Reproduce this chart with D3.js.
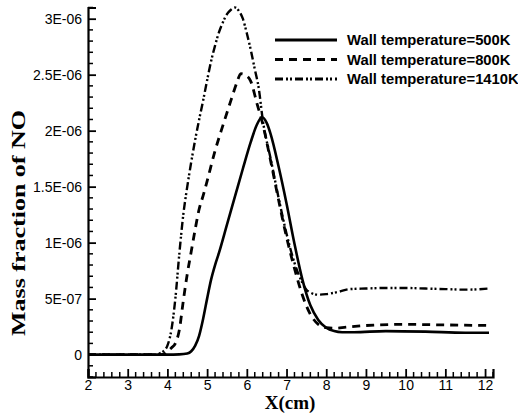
<!DOCTYPE html>
<html>
<head>
<meta charset="utf-8">
<script src="https://cdn.jsdelivr.net/npm/d3@7"></script>
<style>
  html, body { margin: 0; padding: 0; background: #fff; }
  svg { display: block; }
</style>
</head>
<body>
<svg id="chart" width="518" height="414"></svg>
<script>
// ---------- data (values in units of 1E-06 mass fraction) ----------
const seriesNames = ["Wall temperature=500K", "Wall temperature=800K", "Wall temperature=1410K"];

const x500 = [2, 3, 4, 4.3, 4.5, 4.6, 4.7, 4.8, 4.9, 5.0, 5.1, 5.2, 5.3, 5.5, 5.7, 5.9, 6.1, 6.25, 6.38, 6.5, 6.6, 6.8, 7.0, 7.2, 7.4, 7.6, 7.8, 8.0, 8.2, 8.4, 8.7, 9.5, 10.5, 11.5, 12.1];
const y500 = [0, 0, 0, 0.002, 0.01, 0.03, 0.08, 0.17, 0.32, 0.5, 0.67, 0.8, 0.91, 1.16, 1.41, 1.66, 1.9, 2.05, 2.12, 2.07, 1.97, 1.68, 1.35, 0.99, 0.67, 0.44, 0.31, 0.24, 0.21, 0.2, 0.2, 0.21, 0.205, 0.195, 0.195];

const x800 = [2, 3, 3.8, 3.9, 4.0, 4.1, 4.2, 4.3, 4.4, 4.5, 4.6, 4.7, 4.8, 4.9, 5.0, 5.2, 5.4, 5.6, 5.75, 5.85, 5.95, 6.1, 6.25, 6.4, 6.6, 6.8, 7.0, 7.2, 7.4, 7.6, 7.8, 8.0, 8.2, 8.5, 9, 10, 11, 12.1];
const y800 = [0, 0, 0, 0.005, 0.03, 0.06, 0.1, 0.22, 0.48, 0.72, 0.92, 1.12, 1.3, 1.42, 1.55, 1.82, 2.05, 2.27, 2.43, 2.51, 2.5, 2.44, 2.25, 2.06, 1.73, 1.38, 1.05, 0.77, 0.53, 0.36, 0.27, 0.24, 0.235, 0.245, 0.26, 0.27, 0.265, 0.26];

const x1410 = [2, 3, 3.7, 3.8, 3.9, 4.0, 4.1, 4.2, 4.3, 4.4, 4.5, 4.6, 4.7, 4.8, 4.9, 5.0, 5.1, 5.2, 5.3, 5.4, 5.5, 5.6, 5.7, 5.8, 5.9, 6.0, 6.1, 6.2, 6.3, 6.4, 6.6, 6.8, 7.0, 7.2, 7.4, 7.5, 7.6, 7.8, 8.0, 8.3, 8.6, 9, 9.5, 10, 10.5, 11, 11.5, 12.1];
const y1410 = [0, 0, 0, 0.01, 0.03, 0.08, 0.22, 0.5, 0.9, 1.25, 1.5, 1.72, 1.92, 2.1, 2.27, 2.45, 2.62, 2.76, 2.88, 2.97, 3.04, 3.08, 3.1, 3.07, 3.0, 2.87, 2.72, 2.55, 2.38, 2.1, 1.75, 1.4, 1.08, 0.82, 0.64, 0.58, 0.555, 0.535, 0.54, 0.56, 0.585, 0.59, 0.595, 0.595, 0.59, 0.585, 0.58, 0.59];

const xMajorTicks = [2, 3, 4, 5, 6, 7, 8, 9, 10, 11, 12];
const yMajorTicks = [0, 0.5, 1, 1.5, 2, 2.5, 3];
const yTickLabels = ["0", "5E-07", "1E-06", "1.5E-06", "2E-06", "2.5E-06", "3E-06"];
const xTitle = "X(cm)";
const yTitle = "Mass fraction of NO";

// ---------- chart ----------
const svg = d3.select("#chart");
const x = d3.scaleLinear().domain([2, 12.2]).range([88, 493]);
const y = d3.scaleLinear().domain([-0.2, 3.1]).range([377, 7.5]);

const series = [
  {name: seriesNames[0], xs: x500, ys: y500, dash: null, width: 2.6},
  {name: seriesNames[1], xs: x800, ys: y800, dash: "8,6", width: 2.8},
  {name: seriesNames[2], xs: x1410, ys: y1410, dash: "8,3,2,2,2,3", width: 2.4}
];

const line = d3.line().x(d => x(d[0])).y(d => y(d[1])).curve(d3.curveMonotoneX);

series.forEach(s => {
  svg.append("path")
    .datum(d3.zip(s.xs, s.ys))
    .attr("d", line)
    .attr("fill", "none")
    .attr("stroke", "#000")
    .attr("stroke-width", s.width)
    .attr("stroke-dasharray", s.dash)
    .attr("stroke-linejoin", "round");
});

// minor ticks
const xMinor = d3.range(2, 12.2001, 0.2).filter(v => Math.abs(v - Math.round(v)) > 1e-6);
const yMinor = d3.range(-0.2, 3.1001, 0.1).filter(v => Math.abs(v * 2 - Math.round(v * 2)) > 1e-6);

// X axis
const xAxis = svg.append("g").attr("transform", `translate(0,${y.range()[0]})`)
  .call(d3.axisBottom(x).tickValues(xMajorTicks).tickSize(-8).tickPadding(3).tickFormat(d3.format("d")));
xAxis.append("g").selectAll("line").data(xMinor).join("line")
  .attr("x1", d => x(d)).attr("x2", d => x(d)).attr("y1", 0).attr("y2", -5)
  .attr("stroke", "#000").attr("stroke-width", 1.5);

// Y axis
const yAxis = svg.append("g").attr("transform", `translate(${x.range()[0]},0)`)
  .call(d3.axisLeft(y).tickValues(yMajorTicks).tickSize(-8).tickPadding(6)
    .tickFormat((d, i) => yTickLabels[i]));
yAxis.append("g").selectAll("line").data(yMinor).join("line")
  .attr("y1", d => y(d)).attr("y2", d => y(d)).attr("x1", 0).attr("x2", 5)
  .attr("stroke", "#000").attr("stroke-width", 1.5);

[xAxis, yAxis].forEach(g => {
  g.select(".domain").attr("stroke", "#000").attr("stroke-width", 2.2);
  g.selectAll(".tick line").attr("stroke", "#000").attr("stroke-width", 1.8);
  g.selectAll(".tick text").attr("fill", "#000")
    .style("font-family", "'Liberation Sans', Arial, sans-serif").style("font-size", "14px");
});
yAxis.selectAll(".tick text").attr("dy", "0.36em");

// titles
svg.append("text")
  .attr("x", 290).attr("y", 409)
  .attr("text-anchor", "middle")
  .style("font-family", "'Liberation Serif', 'Times New Roman', serif")
  .style("font-weight", "bold").style("font-size", "19px")
  .text(xTitle);

svg.append("text")
  .attr("transform", "translate(25,223) rotate(-90)")
  .attr("text-anchor", "middle")
  .attr("textLength", 226).attr("lengthAdjust", "spacingAndGlyphs")
  .style("font-family", "'Liberation Serif', 'Times New Roman', serif")
  .style("font-weight", "bold").style("font-size", "18px")
  .text(yTitle);

// legend
const legendY = [40, 59.5, 79];
const legend = svg.append("g");
series.forEach((s, i) => {
  legend.append("line")
    .attr("x1", 275).attr("x2", 337).attr("y1", legendY[i]).attr("y2", legendY[i])
    .attr("stroke", "#000").attr("stroke-width", s.width + 0.4)
    .attr("stroke-dasharray", s.dash);
  legend.append("text")
    .attr("x", 347).attr("y", legendY[i] + 5)
    .style("font-family", "'Liberation Sans', Arial, sans-serif")
    .style("font-weight", "bold").style("font-size", "14.8px")
    .text(s.name);
});
</script>
</body>
</html>
